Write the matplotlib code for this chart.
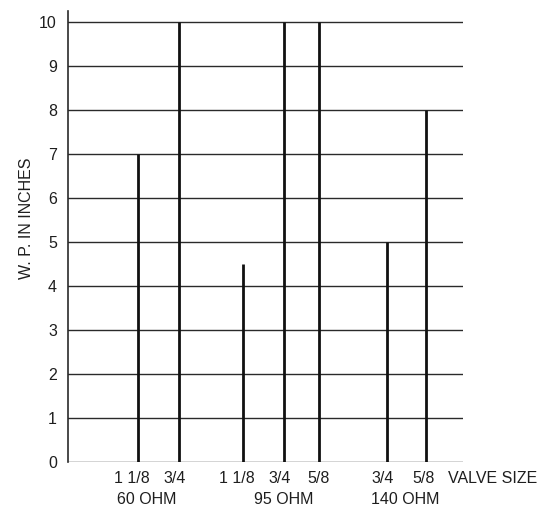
import matplotlib.pyplot as plt

plt.rcParams['font.family'] = ['Liberation Sans', 'DejaVu Sans']

# data
groups = ['60 OHM', '95 OHM', '140 OHM']
sizes = [['1 1/8', '3/4'], ['1 1/8', '3/4', '5/8'], ['3/4', '5/8']]
wp = [[7, 10], [4.5, 10, 10], [5, 8]]
yticks = list(range(0, 11))

# layout: x positions of the lines (axis runs 0..395)
xpos = [[70, 111.5], [175, 216, 251.5], [319, 358]]
label_shift = [[-6, -5], [-6, -4, -1], [-4, -2]]
group_x = [79, 216, 337]

fs = 11.5
tc = '#1e1e1e'

fig = plt.figure(figsize=(5.53, 5.08), dpi=100)
ax = fig.add_axes([0.123, 0.091, 0.714, 0.887])
ax.set_xlim(0, 395)
ax.set_ylim(0, 10.25)

for y in yticks:
    ax.axhline(y, color='#2a2a2a', lw=1.0, zorder=1)

for xs, vals in zip(xpos, wp):
    for x, v in zip(xs, vals):
        ax.vlines(x, 0, v, color='#111111', lw=2.0, zorder=2)

for s in ['top', 'right', 'bottom']:
    ax.spines[s].set_visible(False)
ax.spines['left'].set_color('#2a2a2a')
ax.spines['left'].set_linewidth(1.2)

ax.set_yticks(yticks)
ax.set_yticklabels([str(t) for t in yticks], fontsize=fs, color=tc)
ax.tick_params(axis='y', length=0, pad=8)

ax.set_xticks([])
for xs, labs, sh in zip(xpos, sizes, label_shift):
    for x, l, d in zip(xs, labs, sh):
        ax.text(x + d, -0.2, l, ha='center', va='top', fontsize=fs, color=tc)

for gx, g in zip(group_x, groups):
    ax.text(gx, -0.68, g, ha='center', va='top', fontsize=fs, color=tc)

ax.text(380, -0.2, 'VALVE SIZE', ha='left', va='top', fontsize=fs,
        color=tc, clip_on=False)

ax.set_ylabel('W. P. IN INCHES', fontsize=fs, color=tc)
ax.yaxis.set_label_coords(-0.085, 0.54)

fig.savefig('out.png', dpi=100)
